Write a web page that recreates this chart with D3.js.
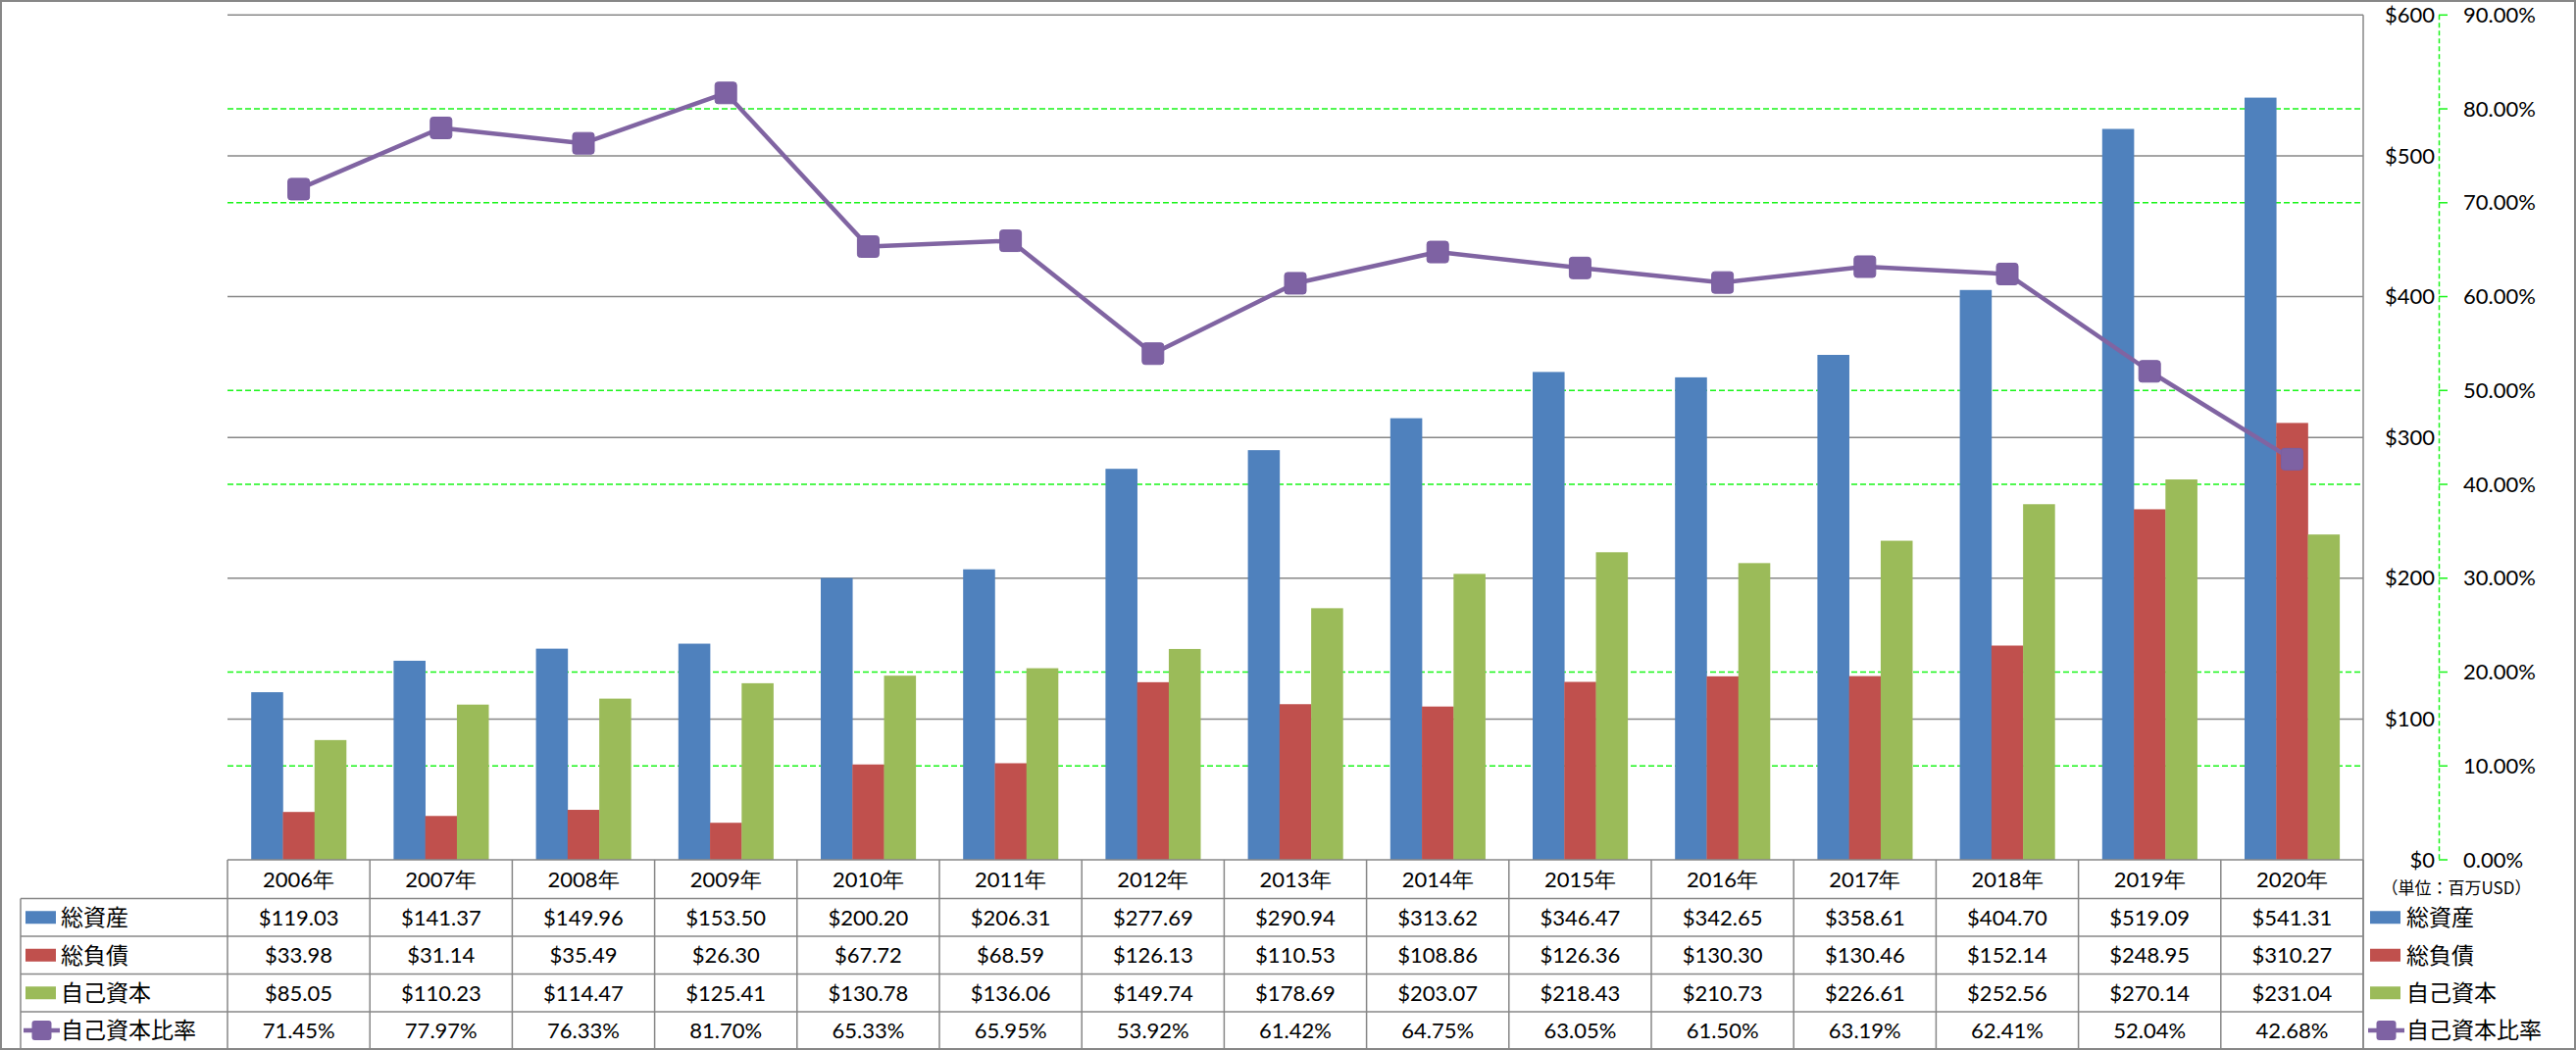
<!DOCTYPE html>
<html>
<head>
<meta charset="utf-8">
<script src="https://cdn.jsdelivr.net/npm/d3@7"></script>
<style>
  html, body { margin: 0; padding: 0; background: #fff; }
  svg { display: block; }
</style>
</head>
<body>
<script>
// ---- data ----
const years = ["2006年","2007年","2008年","2009年","2010年","2011年","2012年","2013年","2014年","2015年","2016年","2017年","2018年","2019年","2020年"];
const totalAssets = [119.03,141.37,149.96,153.50,200.20,206.31,277.69,290.94,313.62,346.47,342.65,358.61,404.70,519.09,541.31];
const totalLiabilities = [33.98,31.14,35.49,26.30,67.72,68.59,126.13,110.53,108.86,126.36,130.30,130.46,152.14,248.95,310.27];
const equity = [85.05,110.23,114.47,125.41,130.78,136.06,149.74,178.69,203.07,218.43,210.73,226.61,252.56,270.14,231.04];
const equityRatio = [71.45,77.97,76.33,81.70,65.33,65.95,53.92,61.42,64.75,63.05,61.50,63.19,62.41,52.04,42.68];
const seriesNames = ["総資産","総負債","自己資本","自己資本比率"];
const leftTicks = [0,100,200,300,400,500,600];
const rightTicks = [0,10,20,30,40,50,60,70,80,90];
const unitLabel = "（単位：百万USD）";

const colors = ["#4F81BD","#C0504D","#9BBB59","#8064A2"];
const W = 2627, H = 1071;
const plotL = 232, plotR = 2410, plotT = 15.3, plotB = 877;
const gridGray = "#878787";
const green = "#19f519";
const numFont = "Lato, 'Noto Sans', sans-serif";
const cjkFont = "'Noto Sans CJK JP', sans-serif";

const svg = d3.select("body").append("svg").attr("width", W).attr("height", H);

const x = d3.scaleBand().domain(years).range([plotL, plotR]).paddingInner(0).paddingOuter(0);
const yL = d3.scaleLinear().domain([0, 600]).range([plotB, plotT]);
const yR = d3.scaleLinear().domain([0, 90]).range([plotB, plotT]);

// outer border
svg.append("rect").attr("x", 1).attr("y", 1).attr("width", W - 2).attr("height", H - 2)
  .attr("fill", "none").attr("stroke", gridGray).attr("stroke-width", 2);

// green dashed gridlines (secondary), skipped where a gray gridline lies on top
const grayYs = leftTicks.map(t => yL(t));
svg.append("g").selectAll("line")
  .data(rightTicks.filter(t => t > 0 && t < 90 && !grayYs.some(g => Math.abs(g - yR(t)) < 2))).join("line")
  .attr("x1", plotL).attr("x2", plotR)
  .attr("y1", d => yR(d)).attr("y2", d => yR(d))
  .attr("stroke", green).attr("stroke-width", 1.5).attr("stroke-dasharray", "6,3");

// gray gridlines (primary)
svg.append("g").selectAll("line").data(leftTicks.filter(t => t > 0)).join("line")
  .attr("x1", plotL).attr("x2", plotR)
  .attr("y1", d => yL(d)).attr("y2", d => yL(d))
  .attr("stroke", gridGray).attr("stroke-width", 1.5);

// bars (gap width 150%)
const barSeries = [totalAssets, totalLiabilities, equity];
const bw = x.bandwidth() / 4.5;
const sub = d3.scaleBand().domain([0,1,2]).range([0.75 * bw, x.bandwidth() - 0.75 * bw]);
barSeries.forEach((vals, si) => {
  svg.append("g").selectAll("rect").data(vals).join("rect")
    .attr("x", (d, i) => x(years[i]) + sub(si))
    .attr("width", sub.bandwidth() + 0.3)
    .attr("y", d => yL(d))
    .attr("height", d => plotB - yL(d))
    .attr("fill", colors[si]);
});

// right plot border
svg.append("line").attr("x1", plotR).attr("x2", plotR).attr("y1", plotT).attr("y2", 1070)
  .attr("stroke", gridGray).attr("stroke-width", 1.5);

// ratio line
const cx = i => x(years[i]) + x.bandwidth() / 2;
const line = d3.line().x((d, i) => cx(i)).y(d => yR(d));
svg.append("path").datum(equityRatio).attr("d", line)
  .attr("fill", "none").attr("stroke", colors[3]).attr("stroke-width", 4.5).attr("stroke-linejoin", "round");
svg.append("g").selectAll("rect").data(equityRatio).join("rect")
  .attr("x", (d, i) => cx(i) - 11).attr("y", d => yR(d) - 11)
  .attr("width", 22).attr("height", 22).attr("rx", 3)
  .attr("fill", "#7E62A3").attr("stroke", "#7a5ea0").attr("stroke-width", 1);

// secondary axis line (green dashed) with ticks
const axX = 2487;
svg.append("line").attr("x1", axX + 0.5).attr("x2", axX + 0.5).attr("y1", plotT).attr("y2", plotB)
  .attr("stroke", green).attr("stroke-width", 1.5).attr("stroke-dasharray", "5,3");
svg.append("g").selectAll("line").data(rightTicks).join("line")
  .attr("x1", axX).attr("x2", axX + 9)
  .attr("y1", d => yR(d)).attr("y2", d => yR(d))
  .attr("stroke", green).attr("stroke-width", 1.5);

// primary axis labels
svg.append("g").selectAll("text").data(leftTicks).join("text")
  .attr("x", 2483).attr("y", d => yL(d)).attr("dy", "0.35em")
  .attr("text-anchor", "end").attr("font-family", numFont).attr("font-size", 22).attr("fill", "#000")
  .text(d => "$" + d);

// secondary axis labels
svg.append("g").selectAll("text").data(rightTicks).join("text")
  .attr("x", 2512).attr("y", d => yR(d)).attr("dy", "0.35em")
  .attr("text-anchor", "start").attr("font-family", numFont).attr("font-size", 22).attr("fill", "#000")
  .text(d => d.toFixed(2) + "%");

// unit label
svg.append("text").attr("x", 2505).attr("y", 906).attr("dy", "0.35em")
  .attr("text-anchor", "middle").attr("font-family", cjkFont).attr("font-size", 17).attr("fill", "#000")
  .text(unitLabel);

// ---- data table ----
const tableL = 21, tableB = 1070;
const rowEdges = [877, 916.5, 955, 993.5, 1032, 1070];
const tg = svg.append("g");
tg.append("line").attr("x1", plotL).attr("x2", plotR).attr("y1", rowEdges[0]).attr("y2", rowEdges[0])
  .attr("stroke", gridGray).attr("stroke-width", 1.5);
rowEdges.slice(1, 5).forEach(yy => {
  tg.append("line").attr("x1", tableL).attr("x2", plotR).attr("y1", yy).attr("y2", yy)
    .attr("stroke", gridGray).attr("stroke-width", 1.5);
});
tg.selectAll("line.v").data(d3.range(years.length + 1)).join("line").attr("class", "v")
  .attr("x1", i => plotL + i * x.bandwidth()).attr("x2", i => plotL + i * x.bandwidth())
  .attr("y1", rowEdges[0]).attr("y2", tableB)
  .attr("stroke", gridGray).attr("stroke-width", 1.5);
tg.append("line").attr("x1", tableL).attr("x2", tableL).attr("y1", rowEdges[1]).attr("y2", tableB)
  .attr("stroke", gridGray).attr("stroke-width", 1.5);

const rowMid = r => (rowEdges[r] + rowEdges[r + 1]) / 2;
tg.append("g").selectAll("text").data(years).join("text")
  .attr("x", d => x(d) + x.bandwidth() / 2).attr("y", rowMid(0)).attr("dy", "0.36em")
  .attr("text-anchor", "middle").attr("font-family", numFont).attr("font-size", 22).attr("fill", "#000")
  .text(d => d);

const tableRows = [
  totalAssets.map(v => "$" + v.toFixed(2)),
  totalLiabilities.map(v => "$" + v.toFixed(2)),
  equity.map(v => "$" + v.toFixed(2)),
  equityRatio.map(v => v.toFixed(2) + "%")
];
tableRows.forEach((vals, r) => {
  tg.append("g").selectAll("text").data(vals).join("text")
    .attr("x", (d, i) => cx(i)).attr("y", rowMid(r + 1)).attr("dy", "0.36em")
    .attr("text-anchor", "middle").attr("font-family", numFont).attr("font-size", 22).attr("fill", "#000")
    .text(d => d);
});

function legendKey(g, x0, r, si) {
  const ym = rowMid(r + 1);
  if (si < 3) {
    g.append("rect").attr("x", x0).attr("y", ym - 6.5).attr("width", 31).attr("height", 13).attr("fill", colors[si]);
  } else {
    g.append("line").attr("x1", x0 - 2).attr("x2", x0 + 35).attr("y1", ym).attr("y2", ym)
      .attr("stroke", colors[3]).attr("stroke-width", 4.5);
    g.append("rect").attr("x", x0 + 6.5).attr("y", ym - 10).attr("width", 20).attr("height", 20).attr("rx", 3)
      .attr("fill", "#7E62A3");
  }
}
seriesNames.forEach((name, si) => {
  legendKey(tg, 26, si, si);
  tg.append("text").attr("x", 62).attr("y", rowMid(si + 1)).attr("dy", "0.36em")
    .attr("font-family", cjkFont).attr("font-size", 23).attr("fill", "#000").text(name);
  legendKey(tg, 2417, si, si);
  tg.append("text").attr("x", 2454).attr("y", rowMid(si + 1)).attr("dy", "0.36em")
    .attr("font-family", cjkFont).attr("font-size", 23).attr("fill", "#000").text(name);
});
</script>
</body>
</html>
